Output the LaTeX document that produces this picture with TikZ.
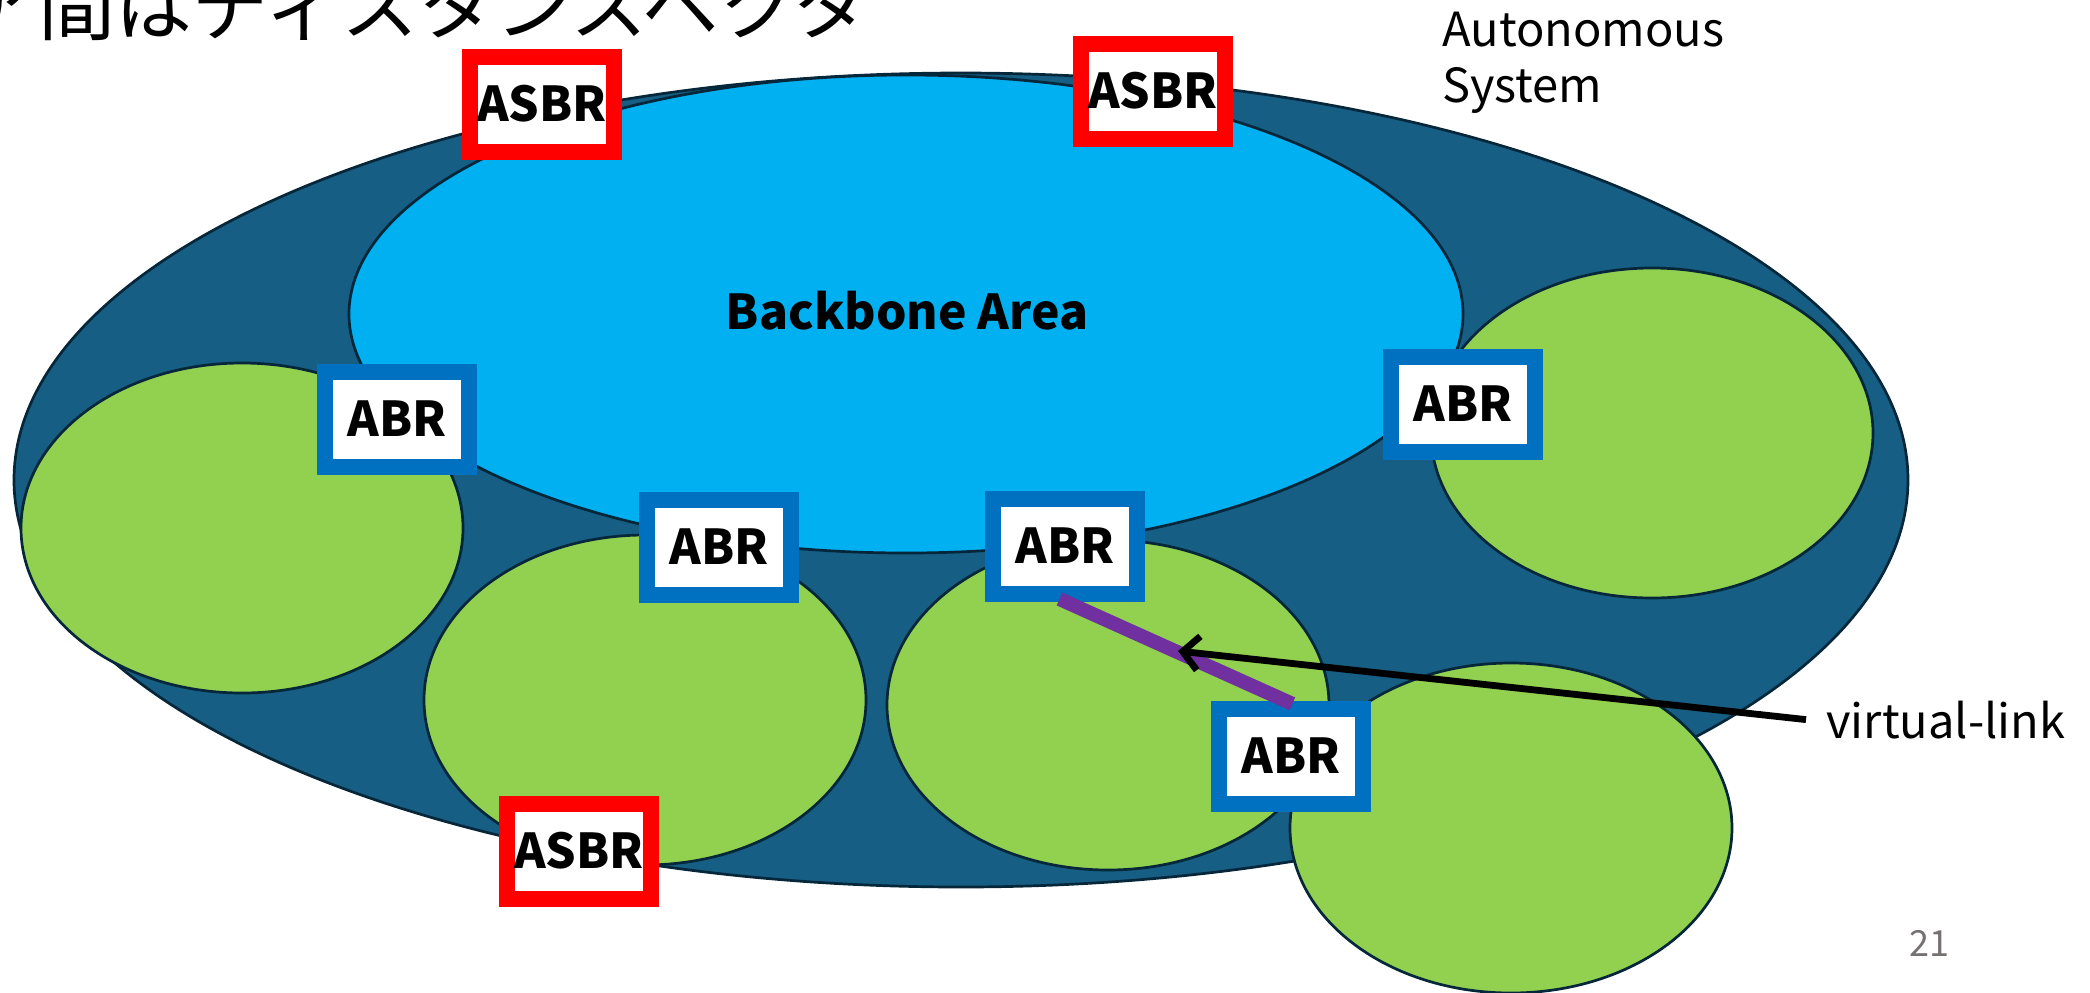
\documentclass[tikz,border=0pt]{standalone}
\usepackage{fontspec}
\setmainfont{Noto Sans CJK JP}
\usepackage{tikz}
\usetikzlibrary{calc,positioning,arrows.meta}
\usepackage{xcolor}
\definecolor{AsTeal}{HTML}{165E83}
\definecolor{EdgeNavy}{HTML}{06263A}
\definecolor{BackboneBlue}{HTML}{00B0F0}
\definecolor{AreaGreen}{HTML}{92D050}
\definecolor{AbrBlue}{HTML}{0070C0}
\definecolor{AsbrRed}{HTML}{FF0000}
\definecolor{LinkPurple}{HTML}{7030A0}
\definecolor{PageGray}{HTML}{767171}

\begin{document}
\begin{tikzpicture}[x=0.5pt,y=-0.5pt,
    area/.style={draw=EdgeNavy, line width=1.35pt},
    rtr/.style={fill=white, line width=8pt, minimum width=72pt, minimum height=47.5pt,
        inner sep=0pt, font=\fontsize{24pt}{28pt}\selectfont\bfseries},
    abrbox/.style={rtr, draw=AbrBlue},
    asbrbox/.style={rtr, draw=AsbrRed},
    note/.style={inner sep=0pt, font=\fontsize{23.5pt}{28pt}\selectfont},
    vlink/.style={LinkPurple, line width=7pt},
    pointer/.style={-{Straight Barb[length=8pt,width=17pt]}, line width=3.4pt}]
    \useasboundingbox (0,0) rectangle (2090,992);
    % 見出し（上端で切れている）
    \node[anchor=base west, inner sep=0pt, font=\fontsize{38.5pt}{42pt}\selectfont] (title) at (-39,34) {ア間はディスタンスベクタ};
    % AS 全体とバックボーン
    \draw[area, fill=AsTeal] (961,480) ellipse [x radius=947, y radius=407];
    \draw[area, fill=BackboneBlue] (906,314) ellipse [x radius=557, y radius=239];
    \node[anchor=base, inner sep=0pt, font=\fontsize{24pt}{28pt}\selectfont\bfseries] (bb) at (907,329) {Backbone Area};
    % 各エリア
    \foreach \cx/\cy in {242/528, 645/700, 1108/705, 1652/433, 1511/828}
        \draw[area, fill=AreaGreen] (\cx,\cy) ellipse [x radius=221, y radius=165];
    % ルータ
    \node[asbrbox] (asbr1) at (542,104) {ASBR};
    \node[asbrbox] (asbr2) at (1153,91) {ASBR};
    \node[asbrbox] (asbr3) at (579,851) {ASBR};
    \node[abrbox] (abr1) at (397,419) {ABR};
    \node[abrbox] (abr2) at (719,547) {ABR};
    \node[abrbox] (abr3) at (1065,546) {ABR};
    \node[abrbox] (abr4) at (1463,404) {ABR};
    \node[abrbox] (abr5) at (1291,756) {ABR};
    % virtual-link
    \draw[vlink, shorten <=-3pt, shorten >=-4pt] (abr3.south) -- ($(abr5.north)+(-6,0)$);
    \coordinate (vmid) at ($(abr3.south)!0.5!(abr5.north)$);
    \node[note, anchor=base west, inner xsep=10pt] (vl) at (1806,738) {virtual-link};
    \draw[pointer] (vl.west) -- (vmid);
    % ラベル
    \node[note, anchor=north west, align=left] (as) at (1442,12) {Autonomous\\System};
    \node[anchor=base west, inner sep=0pt, text=PageGray, font=\fontsize{18pt}{20pt}\selectfont] (pg) at (1909,956) {21};
\end{tikzpicture}
\end{document}
